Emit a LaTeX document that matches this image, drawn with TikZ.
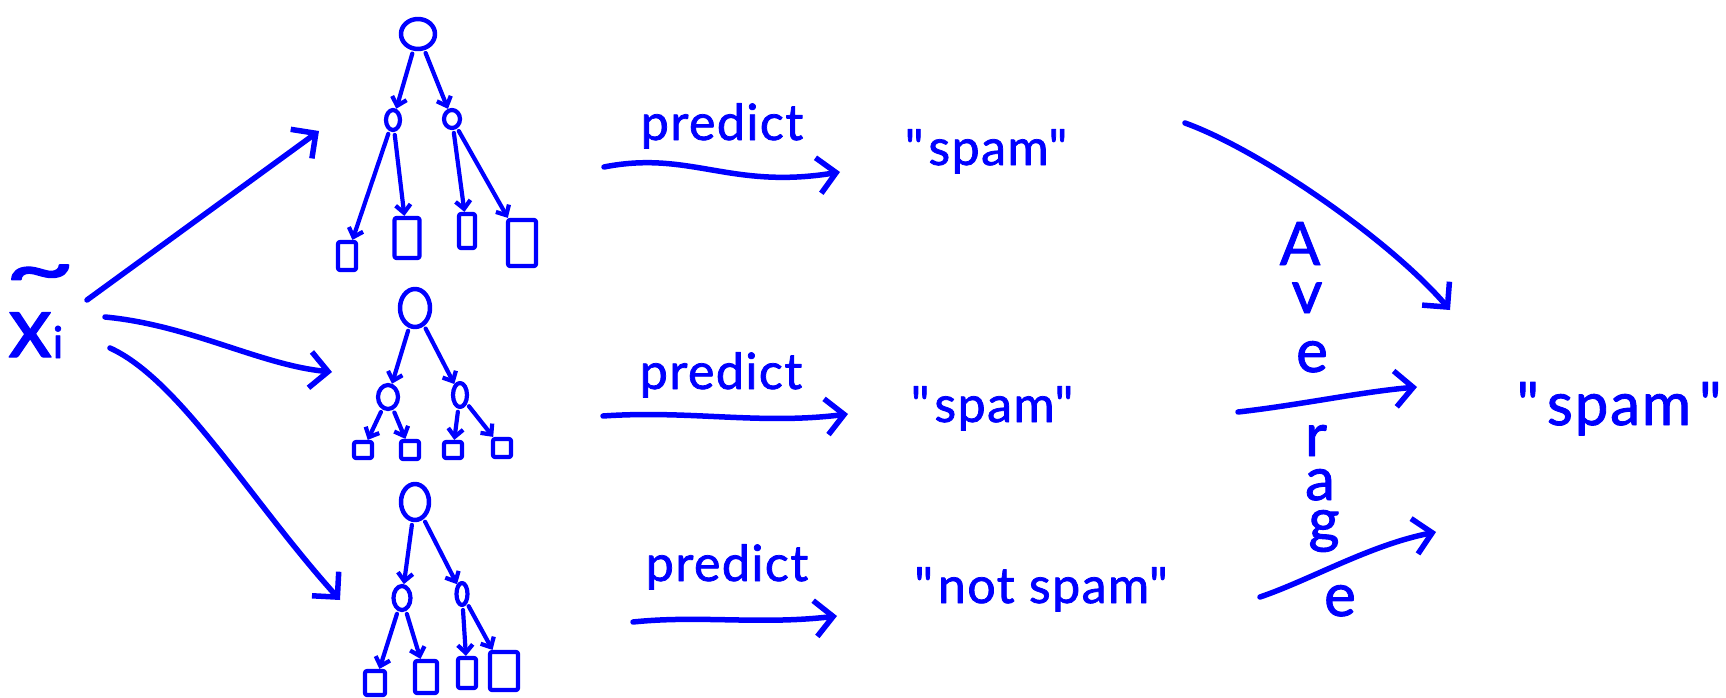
\documentclass[tikz,border=0pt]{standalone}
\usepackage{fontspec}
\setmainfont{Lato}[FakeBold=1.5,LetterSpace=3]
\usetikzlibrary{arrows.meta,shapes.geometric}
\definecolor{ink}{RGB}{0,0,255}
\newcommand{\setfs}[1]{\fontsize{#1}{#1}\selectfont}
\newcommand{\qq}{\textquotedbl}

\begin{document}
\begin{tikzpicture}[x=1pt,y=-1pt,color=ink,line cap=round,line join=round,
  bigarrow/.style={line width=5.5pt,-{Straight Barb[length=18pt,width=36pt,line width=5.5pt]}},
  treeedge/.style={line width=4.2pt,shorten <=3pt,-{Straight Barb[length=8pt,width=15pt,line width=4.2pt]}},
  rootnode/.style={draw,ellipse,line width=4.5pt,inner sep=0pt},
  innernode/.style={draw,ellipse,line width=4.2pt,inner sep=0pt},
  leafnode/.style={draw,rectangle,rounded corners=2pt,line width=4.2pt,inner sep=0pt},
  sz/.style 2 args={minimum width=#1,minimum height=#2},
  word/.style={inner sep=0pt,anchor=base},
]
\useasboundingbox (0,0) rectangle (1726,698);

% ---- input example: x with a tilde and subscript i
\node[inner sep=0pt,anchor=base west,font=\setfs{88}] (xi) at (8,357) {x};
\node[inner sep=0pt,anchor=center,font=\setfs{84}] (xitilde) at (40,281) {\scalebox{1.45}[1]{\textasciitilde}};
\node[inner sep=0pt,anchor=base,font=\setfs{44}] (xisub) at (58,358) {i};

% ---- tree 1
\node[rootnode,sz={34pt}{30pt}] (r1) at (418,34) {};
\node[innernode,sz={14pt}{20pt}] (c11) at (393,120) {};
\node[innernode,sz={16pt}{18pt}] (c12) at (452,119) {};
\node[leafnode,sz={18pt}{28pt}] (l11) at (347,256) {};
\node[leafnode,sz={25pt}{40pt}] (l12) at (407,238) {};
\node[leafnode,sz={16pt}{34pt}] (l13) at (467,231) {};
\node[leafnode,sz={28pt}{46pt}] (l14) at (522,243) {};

% ---- tree 2
\node[rootnode,sz={30pt}{38pt}] (r2) at (415,308) {};
\node[innernode,sz={20pt}{24pt}] (c21) at (388,397) {};
\node[innernode,sz={14pt}{24pt}] (c22) at (460,395) {};
\node[leafnode,sz={18pt}{16pt}] (l21) at (363,450) {};
\node[leafnode,sz={18pt}{18pt}] (l22) at (410,450) {};
\node[leafnode,sz={18pt}{16pt}] (l23) at (453,450) {};
\node[leafnode,sz={18pt}{18pt}] (l24) at (502,448) {};

% ---- tree 3
\node[rootnode,sz={28pt}{36pt}] (r3) at (415,502) {};
\node[innernode,sz={17pt}{24pt}] (c31) at (402,598) {};
\node[innernode,sz={11pt}{22pt}] (c32) at (462,594) {};
\node[leafnode,sz={20pt}{24pt}] (l31) at (375,683) {};
\node[leafnode,sz={22pt}{32pt}] (l32) at (426,677) {};
\node[leafnode,sz={18pt}{30pt}] (l33) at (467,673) {};
\node[leafnode,sz={28pt}{38pt}] (l34) at (504,671) {};

\foreach \a/\b in {r1/c11,r1/c12,c11/l11,c11/l12,c12/l13,c12/l14,
                   r2/c21,r2/c22,c21/l21,c21/l22,c22/l23,c22/l24,
                   r3/c31,r3/c32,c31/l31,c31/l32,c32/l33,c32/l34}
  \draw[treeedge] (\a) -- (\b);

% ---- input to trees
\coordinate (xo1) at (87,300);
\coordinate (xo2) at (105,317);
\coordinate (xo3) at (110,348);
\coordinate (ti1) at (319,131);
\coordinate (ti2) at (332,372);
\coordinate (ti3) at (340,600);
\draw[bigarrow] (xo1) -- (ti1);
\draw[bigarrow] (xo2) .. controls (190,325) and (260,365) .. (ti2);
\draw[bigarrow] (xo3) .. controls (180,380) and (250,500) .. (ti3);

% ---- predictions
\coordinate (ps1) at (604,167);
\coordinate (pe1) at (840,172);
\coordinate (ps2) at (603,416);
\coordinate (pe2) at (848,414);
\coordinate (ps3) at (633,622);
\coordinate (pe3) at (837,616);
\draw[bigarrow] (ps1) .. controls (690,150) and (730,190) .. (pe1);
\draw[bigarrow] (ps2) .. controls (690,410) and (760,425) .. (pe2);
\draw[bigarrow] (ps3) .. controls (700,615) and (760,625) .. (pe3);

\node[word,font=\setfs{50}] (pr1) at (722,140) {predict};
\node[word,font=\setfs{50}] (pr2) at (721,389) {predict};
\node[word,font=\setfs{50}] (pr3) at (727,581) {predict};

\node[word,font=\setfs{50}] (o1) at (986,165) {\qq\hspace{5pt}spam\qq};
\node[word,font=\setfs{50}] (o2) at (992,422) {\qq\hspace{5pt}spam\qq};
\node[word,font=\setfs{50}] (o3) at (1041,603) {\qq\hspace{5pt}not spam\qq};

% ---- averaging
\coordinate (as1) at (1185,123);
\coordinate (ae1) at (1450,310);
\coordinate (as2) at (1238,412);
\coordinate (ae2) at (1417,387);
\coordinate (as3) at (1260,597);
\coordinate (ae3) at (1436,532);
\draw[bigarrow] (as1) .. controls (1260,150) and (1390,240) .. (ae1);
\draw[bigarrow] (as2) .. controls (1300,405) and (1360,392) .. (ae2);
\draw[bigarrow] (as3) .. controls (1310,580) and (1370,545) .. (ae3);

\foreach \ch/\px/\py [count=\k] in {A/1300/265,v/1307/313,e/1312/372,r/1316/456,a/1320/500,g/1324/541,e/1340/616}
  \node[word,font=\setfs{60}] (avg\k) at (\px,\py) {\ch};

\node[word,font=\setfs{60}] (final) at (1619,425) {\qq\hspace{8pt}spam\hspace{8pt}\qq};
\end{tikzpicture}
\end{document}
